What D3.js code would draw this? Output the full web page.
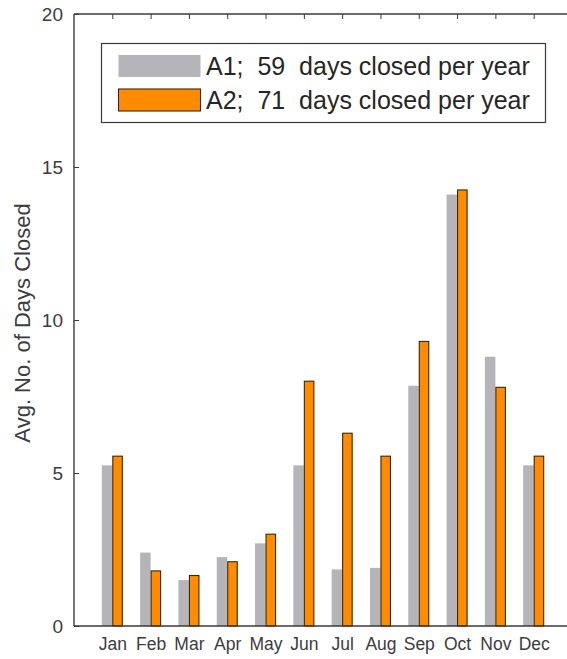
<!DOCTYPE html>
<html>
<head>
<meta charset="utf-8">
<script src="https://cdn.jsdelivr.net/npm/d3@7"></script>
<style>
  html, body { margin: 0; padding: 0; background: #fff; }
  svg { display: block; font-family: "Liberation Sans", Arial, sans-serif; }
</style>
</head>
<body>
<svg id="chart" width="567" height="659"></svg>
<script>
// Monthly averages of days closed for two scenarios
const months = ["Jan","Feb","Mar","Apr","May","Jun","Jul","Aug","Sep","Oct","Nov","Dec"];
const a1Values = [5.25, 2.4, 1.5, 2.25, 2.7, 5.25, 1.85, 1.9, 7.85, 14.1, 8.8, 5.25];
const a2Values = [5.55, 1.8, 1.65, 2.1, 3.0, 8.0, 6.3, 5.55, 9.3, 14.25, 7.8, 5.55];
const seriesNames = ["A1;  59  days closed per year", "A2;  71  days closed per year"];
const yTicks = [0, 5, 10, 15, 20];

const svg = d3.select("#chart");
const plotLeft = 74, plotRight = 572, plotTop = 14, plotBottom = 626;

// month index 1..12 placed on a [0, 13] range
const x = d3.scaleLinear().domain([0, 13]).range([plotLeft, plotRight]);
const y = d3.scaleLinear().domain([0, 20]).range([plotBottom, plotTop]);
const barW = 10.5;

const axisColor = "#3a3a3a";
const textColor = "#3c3c3c";

// bars: A1 on the left of each month, A2 on the right
const g = svg.append("g");
g.selectAll("rect.a1").data(a1Values).join("rect")
  .attr("class", "a1")
  .attr("x", (d, i) => x(i + 1) - barW)
  .attr("y", d => y(d))
  .attr("width", barW)
  .attr("height", d => y(0) - y(d))
  .attr("fill", "#b5b5b9");

g.selectAll("rect.a2").data(a2Values).join("rect")
  .attr("class", "a2")
  .attr("x", (d, i) => x(i + 1) + 0.5)
  .attr("y", d => y(d))
  .attr("width", barW - 1)
  .attr("height", d => y(0) - y(d))
  .attr("fill", "#ff8c00")
  .attr("stroke", "#3b2508")
  .attr("stroke-width", 1.1);

// left axis with inward ticks
const yAxis = d3.axisLeft(y).tickValues(yTicks).tickSize(-5).tickPadding(11);
const ya = svg.append("g").attr("transform", `translate(${plotLeft},0)`).call(yAxis);
ya.select(".domain").remove();
ya.selectAll("line").attr("stroke", axisColor);
ya.selectAll("text").attr("fill", textColor).style("font-size", "19px");

// top axis ticks pointing down
const xTop = d3.axisTop(x).tickValues(d3.range(1, 13)).tickSize(-5).tickFormat("");
const xt = svg.append("g").attr("transform", `translate(0,${plotTop})`).call(xTop);
xt.select(".domain").remove();
xt.selectAll("line").attr("stroke", axisColor);

// bottom axis with month labels
const xBot = d3.axisBottom(x).tickValues(d3.range(1, 13)).tickSize(0).tickPadding(12)
  .tickFormat(d => months[d - 1]);
const xb = svg.append("g").attr("transform", `translate(0,${plotBottom})`).call(xBot);
xb.select(".domain").remove();
xb.selectAll("text").attr("fill", textColor).style("font-size", "17.5px");

// plot frame
svg.append("line").attr("x1", plotLeft).attr("x2", plotLeft).attr("y1", plotTop).attr("y2", plotBottom)
  .attr("stroke", axisColor).attr("stroke-width", 1.4);
svg.append("line").attr("x1", plotLeft).attr("x2", plotRight).attr("y1", plotTop).attr("y2", plotTop)
  .attr("stroke", axisColor).attr("stroke-width", 1.4);
svg.append("line").attr("x1", plotLeft).attr("x2", plotRight).attr("y1", plotBottom).attr("y2", plotBottom)
  .attr("stroke", axisColor).attr("stroke-width", 1.4);

// y label
svg.append("text")
  .attr("transform", `translate(30,323) rotate(-90)`)
  .attr("text-anchor", "middle")
  .attr("fill", textColor)
  .style("font-size", "22px")
  .text("Avg. No. of Days Closed");

// legend
const lg = svg.append("g");
lg.append("rect").attr("x", 101.5).attr("y", 43.5).attr("width", 444).attr("height", 79)
  .attr("fill", "#fff").attr("stroke", axisColor).attr("stroke-width", 1.2);
const swatches = [
  { fill: "#b5b5b9", stroke: "none" },
  { fill: "#ff8c00", stroke: "#3b2508" }
];
seriesNames.forEach((name, i) => {
  const yy = 55 + i * 34;
  lg.append("rect").attr("x", 118.5).attr("y", yy).attr("width", 82).attr("height", 22)
    .attr("fill", swatches[i].fill).attr("stroke", swatches[i].stroke).attr("stroke-width", 1.1);
  lg.append("text").attr("x", 206).attr("y", yy + 20)
    .attr("fill", "#262626").style("font-size", "25px")
    .style("white-space", "pre").attr("xml:space", "preserve")
    .text(name);
});
</script>
</body>
</html>
